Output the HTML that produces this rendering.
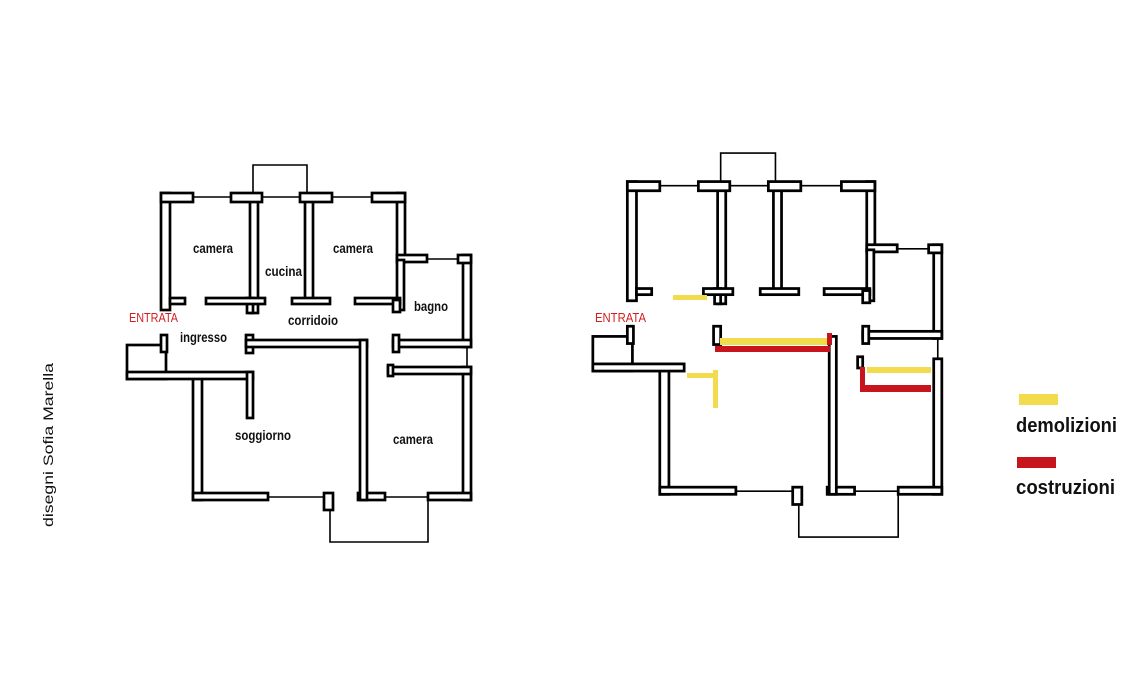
<!DOCTYPE html>
<html><head><meta charset="utf-8"><style>
html,body{margin:0;padding:0;background:#fff;}
svg{display:block;}
.w{fill:#fff;stroke:#000;stroke-width:2.7;}
.t{stroke:#000;stroke-width:1.6;fill:none;}
.lb{font-family:"Liberation Sans",sans-serif;font-weight:bold;font-size:13.5px;fill:#111;}
</style></head><body>
<svg width="1140" height="680" viewBox="0 0 1140 680" xmlns="http://www.w3.org/2000/svg">
<defs>
<g id="common">
  <polyline class="t" points="253,193 253,165 307,165 307,193"/>
  <line class="t" x1="193" y1="197" x2="231" y2="197"/>
  <line class="t" x1="262" y1="197" x2="300" y2="197"/>
  <line class="t" x1="332" y1="197" x2="372" y2="197"/>
  <line class="t" x1="427" y1="259" x2="460" y2="259"/>
  <line class="t" x1="467" y1="347" x2="467" y2="367"/>
  <line class="t" x1="385" y1="497" x2="428" y2="497"/>
  <line class="t" x1="268" y1="497" x2="325" y2="497"/>
  <polyline class="t" points="330,510 330,542 428,542 428,500"/>
  <rect class="w" x="161" y="193" width="9" height="117"/>
  <rect class="w" x="161" y="193" width="32" height="9"/>
  <rect class="w" x="250" y="200" width="8" height="113"/>
  <rect class="w" x="231" y="193" width="31" height="9"/>
  <rect class="w" x="305" y="200" width="8" height="100"/>
  <rect class="w" x="300" y="193" width="32" height="9"/>
  <rect class="w" x="397" y="193" width="8" height="69"/>
  <rect class="w" x="372" y="193" width="33" height="9"/>
  <rect class="w" x="397" y="255" width="30" height="7"/>
  <rect class="w" x="463" y="255" width="8" height="92"/>
  <rect class="w" x="458" y="255" width="13" height="8"/>
  <rect class="w" x="397" y="260" width="7" height="50"/>
  <rect class="w" x="393" y="340" width="78" height="7"/>
  <rect class="w" x="393" y="335" width="6" height="17"/>
  <rect class="w" x="463" y="367" width="8" height="133"/>
  <rect class="w" x="428" y="493" width="43" height="7"/>
  <rect class="w" x="358" y="493" width="27" height="7"/>
  <rect class="w" x="170" y="298" width="15" height="6"/>
  <rect class="w" x="247" y="298" width="6" height="15"/>
  <rect class="w" x="292" y="298" width="38" height="6"/>
  <rect class="w" x="355" y="298" width="45" height="6"/>
  <rect class="w" x="393" y="300" width="7" height="12"/>
  <rect class="w" x="127" y="345" width="39" height="34"/>
  <rect x="134" y="352" width="25" height="20" fill="#fff"/>
  <rect class="w" x="161" y="335" width="6" height="17"/>
  <rect class="w" x="246" y="335" width="7" height="18"/>
  <rect class="w" x="193" y="376" width="9" height="124"/>
  <rect class="w" x="193" y="493" width="75" height="7"/>
  <rect class="w" x="324" y="493" width="9" height="17"/>
</g>
</defs>

<use href="#common"/>
<g>
  <rect class="w" x="206" y="298" width="59" height="6"/>
  <rect class="w" x="127" y="372" width="126" height="7"/>
  <rect class="w" x="247" y="372" width="6" height="46"/>
  <rect class="w" x="246" y="340" width="121" height="7"/>
  <rect class="w" x="360" y="340" width="7" height="160"/>
  <rect class="w" x="388" y="367" width="83" height="7"/>
  <rect class="w" x="388" y="365" width="5" height="11"/>
</g>
<g class="lb">
  <text x="193" y="253" textLength="40" lengthAdjust="spacingAndGlyphs">camera</text>
  <text x="265" y="276" textLength="37" lengthAdjust="spacingAndGlyphs">cucina</text>
  <text x="333" y="253" textLength="40" lengthAdjust="spacingAndGlyphs">camera</text>
  <text x="414" y="311" textLength="34" lengthAdjust="spacingAndGlyphs">bagno</text>
  <text x="288" y="325" textLength="50" lengthAdjust="spacingAndGlyphs">corridoio</text>
  <text x="180" y="342" textLength="47" lengthAdjust="spacingAndGlyphs">ingresso</text>
  <text x="235" y="440" textLength="56" lengthAdjust="spacingAndGlyphs">soggiorno</text>
  <text x="393" y="444" textLength="40" lengthAdjust="spacingAndGlyphs">camera</text>
</g>
<text x="129" y="322" textLength="49" lengthAdjust="spacingAndGlyphs" style="font-family:'Liberation Sans',sans-serif;font-size:13px;fill:#d02020;">ENTRATA</text>

<g transform="matrix(1.0145 0 0 1.0186 464 -15)">
  <use href="#common"/>
  <rect class="w" x="236" y="298" width="29" height="6"/>
  <rect class="w" x="127" y="372" width="90" height="7"/>
  <rect class="w" x="360" y="345" width="7" height="155"/>
  <rect class="w" x="388" y="365" width="5" height="11"/>
</g>
<g fill="#f2dc4e">
  <rect x="673" y="295" width="34" height="5"/>
  <rect x="720" y="338" width="110" height="7"/>
  <rect x="687" y="373" width="31" height="5"/>
  <rect x="713" y="370" width="5" height="38"/>
  <rect x="867" y="367" width="64" height="6"/>
</g>
<g fill="#c8141c">
  <rect x="715" y="346" width="115" height="6"/>
  <rect x="827" y="333" width="5" height="12"/>
  <rect x="860" y="367" width="5" height="23"/>
  <rect x="860" y="385" width="71" height="7"/>
</g>
<text x="595" y="322" textLength="51" lengthAdjust="spacingAndGlyphs" style="font-family:'Liberation Sans',sans-serif;font-size:13px;fill:#d02020;">ENTRATA</text>

<rect x="1019" y="394" width="39" height="11" fill="#f2dc4e"/>
<text x="1016" y="432" style="font-family:'Liberation Sans',sans-serif;font-weight:bold;font-size:20px;fill:#111;" textLength="101" lengthAdjust="spacingAndGlyphs">demolizioni</text>
<rect x="1017" y="457" width="39" height="11" fill="#c8141c"/>
<text x="1016" y="494" style="font-family:'Liberation Sans',sans-serif;font-weight:bold;font-size:20px;fill:#111;" textLength="99" lengthAdjust="spacingAndGlyphs">costruzioni</text>

<text transform="translate(53,527) rotate(-90)" style="font-family:'Liberation Sans',sans-serif;font-size:14px;fill:#111;" textLength="164" lengthAdjust="spacingAndGlyphs">disegni Sofia Marella</text>
</svg>
</body></html>
